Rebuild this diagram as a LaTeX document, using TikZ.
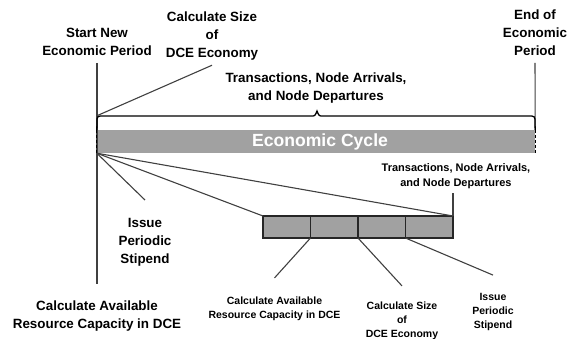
\documentclass[tikz,border=0pt]{standalone}
\usepackage{fontspec}
\setmainfont{Liberation Sans}
\usetikzlibrary{positioning}

\begin{document}
\begin{tikzpicture}[x=1pt, y=-1pt,
  biglbl/.style={font=\fontsize{13.4}{17.8}\selectfont\bfseries, align=center, inner sep=1pt},
  smalllbl/.style={font=\fontsize{10.5}{14}\selectfont\bfseries, align=center, inner sep=1pt},
  wire/.style={line width=1.1pt, black!75},
  cellbox/.style={draw=black!85, line width=1.3pt, fill=black!37, minimum width=47.5pt, minimum height=22pt, inner sep=0pt, outer sep=0pt}]
\useasboundingbox (0,0) rectangle (571,339);

% Period labels on top
\node[biglbl] (startlbl) at (97,42) {Start New\\Economic Period};
\node[biglbl] (sizelbl) at (212,36) {Calculate Size\\of\\DCE Economy};
\node[biglbl] (endlbl) at (535,33) {End of\\Economic\\Period};
\node[biglbl] (translbl) at (316,88) {Transactions, Node Arrivals,\\and Node Departures};

% Labels below the cycle
\node[biglbl] (stipbig) at (145,242) {Issue\\Periodic\\Stipend};
\node[biglbl] (capbig) at (97,316) {Calculate Available\\Resource Capacity in DCE};

% Main timeline
\node[fill=black!37, minimum width=438pt, minimum height=23pt, inner sep=0pt,
      text=white, font=\fontsize{17.6}{20}\selectfont\bfseries] (cycle) at (316,141.5) {\hspace{8pt}Economic Cycle};
\draw[wire, shorten <=6pt, shorten >=16pt] (startlbl.south) -- (capbig.north);
\draw[wire, shorten <=6pt] (endlbl.south) -- (cycle.north east);
\draw[black, line width=1.2pt, dash pattern=on 3pt off 2pt] (cycle.north west) -- (cycle.south west);
\draw[black, line width=1.2pt, dash pattern=on 3pt off 2pt] (cycle.north east) -- (cycle.south east);

% Brace over the cycle
\draw[black, line width=1.3pt] (cycle.north west) -- (97,123) .. controls (97,116) .. (104,116)
  -- (311,116) .. controls (315,116) .. (317,111) .. controls (319,116) .. (323,116)
  -- (528,116) .. controls (535,116) .. (535,123) -- (cycle.north east);

\coordinate (bracetop) at ([yshift=14pt]cycle.north west);
\coordinate (fork) at (cycle.south west);
\coordinate (sizetip) at ([yshift=-4pt]sizelbl.south);
\coordinate (stiptip) at ([yshift=17pt]stipbig.north);
\draw[wire] (bracetop) -- (sizetip);

% Zoomed cycle with four steps
\foreach \i in {1,...,4}
  \node[cellbox] (cell\i) at ({263+47.5*(\i-0.5)},227) {};

\draw[wire] (fork) -- (stiptip);
\draw[wire] (fork) -- (cell1.north west);
\draw[wire] (fork) -- (cell4.north east);

\node[smalllbl, font=\fontsize{11}{15}\selectfont\bfseries] (transsm) at (456,176) {Transactions, Node Arrivals,\\and Node Departures};
\node[smalllbl] (capsm) at (274.5,309) {Calculate Available\\Resource Capacity in DCE};
\node[smalllbl] (sizesm) at (402,321) {Calculate Size\\of\\DCE Economy};
\node[smalllbl] (stipsm) at (493,312) {Issue\\Periodic\\Stipend};

\coordinate (captip) at ([yshift=18pt]capsm.north);
\coordinate (sizesmtip) at ([yshift=15pt]sizesm.north);
\coordinate (stipsmtip) at ([yshift=17pt]stipsm.north);

\draw[wire, shorten >=3pt] (cell4.north east) -- (cell4.north east |- transsm.south);
\draw[wire] (cell1.south east) -- (captip);
\draw[wire] (cell2.south east) -- (sizesmtip);
\draw[wire] (cell3.south east) -- (stipsmtip);
\end{tikzpicture}
\end{document}
